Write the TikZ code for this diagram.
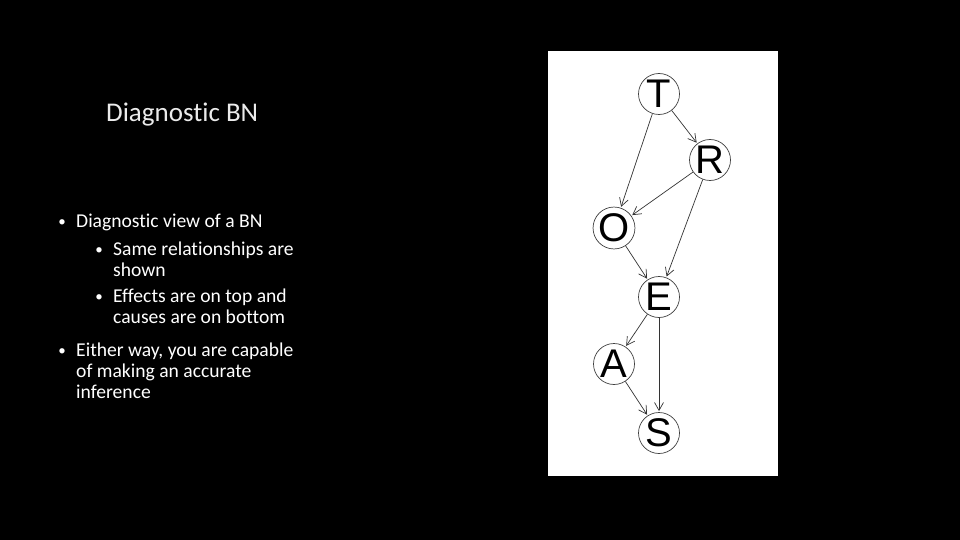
\documentclass[tikz,border=0pt]{standalone}
\usepackage{fontspec}
\setmainfont{Carlito}[Ligatures=NoCommon]
\newfontfamily\nodefont{Liberation Sans}
\usetikzlibrary{arrows.meta}
\begin{document}
\begin{tikzpicture}[x=1pt,y=-1pt,
  bn/.style={circle,draw=black!75,line width=0.7pt,fill=white,minimum size=41pt,inner sep=0pt,font=\nodefont\fontsize{40}{40}\selectfont},
  edge/.style={draw=black!80,line width=0.7pt,-{Straight Barb[length=8pt,width=9pt,line width=0.7pt]},shorten >=1pt},
  txt/.style={anchor=base west,inner sep=0pt,text=white,font=\fontsize{19.6}{19.6}\selectfont},
  bul/.style={anchor=base,inner sep=0pt,text=white,font=\fontsize{15}{15}\selectfont}]
\fill[black] (0,0) rectangle (960,540);
\useasboundingbox (0,0) rectangle (960,540);
% title
\node[anchor=base west,inner sep=0pt,text=white!92!black,font=\fontsize{27}{27}\selectfont] (title) at (106,121.5) {Diagnostic BN};
% bullets
\node[bul] (b1) at (62,226) {•};
\node[txt] (t1) at (76,227) {Diagnostic view of a BN};
\node[bul] (b2) at (99,254.5) {•};
\node[txt] (t2a) at (113,255.5) {Same relationships are};
\node[txt] (t2b) at (113,276) {shown};
\node[bul] (b3) at (99,301.5) {•};
\node[txt] (t3a) at (113,302.5) {Effects are on top and};
\node[txt] (t3b) at (113,323.5) {causes are on bottom};
\node[bul] (b4) at (62,355.5) {•};
\node[txt] (t4a) at (76,356.5) {Either way, you are capable};
\node[txt] (t4b) at (76,377.5) {of making an accurate};
\node[txt] (t4c) at (76,398.5) {inference};
% panel
\fill[white] (548,51) rectangle (778,476);
% network
\node[bn] (T) at (659,94) {T};
\node[bn] (R) at (710,160) {R};
\node[bn] (O) at (614,228) {O};
\node[bn] (E) at (659,297) {E};
\node[bn] (A) at (614,364) {A};
\node[bn] (S) at (659,433) {S};
\draw[edge] (T) -- (R);
\draw[edge] (T) -- (O);
\draw[edge] (R) -- (O);
\draw[edge] (R) -- (E);
\draw[edge] (O) -- (E);
\draw[edge] (E) -- (A);
\draw[edge] (E) -- (S);
\draw[edge] (A) -- (S);
\end{tikzpicture}
\end{document}
